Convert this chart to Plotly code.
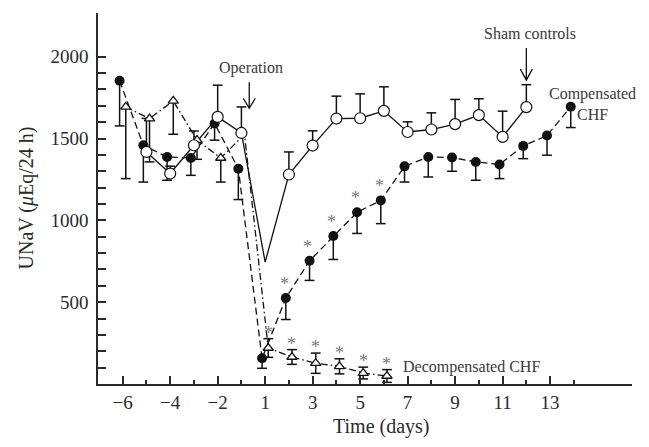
import plotly.graph_objects as go

# ---------------- data ----------------
tick_days = [-6, -4, -2, 1, 3, 5, 7, 9, 11, 13]
minor_days = [-5, -3, -1, 2, 4, 6, 8, 10, 12, 14]

sham_days = [-5, -4, -3, -2, -1, 1, 2, 3, 4, 5, 6, 7, 8, 9, 10, 11, 12]
sham_mean = [1418, 1286, 1459, 1632, 1534, 745, 1280, 1457, 1622, 1624, 1669,
             1540, 1555, 1588, 1643, 1510, 1692]
sham_err = [205, 45, 87, 194, 159, 0, 138, 90, 137, 149, 147, 62, 102, 151,
            100, 157, 137]

comp_days = [-6, -5, -4, -3, -2, -1, 1, 2, 3, 4, 5, 6, 7, 8, 9, 10, 11, 12, 13, 14]
comp_mean = [1853, 1459, 1387, 1381, 1592, 1316, 157, 525, 753, 904, 1049, 1122,
             1330, 1387, 1384, 1357, 1341, 1455, 1518, 1694]
comp_err = [276, 225, 142, 106, 102, 189, 61, 131, 120, 143, 129, 142, 96, 122,
            84, 112, 86, 78, 120, 127]
comp_sig_days = [2, 3, 4, 5, 6]

decomp_days = [-6, -5, -4, -3, -2, -1, 1, 2, 3, 4, 5, 6]
decomp_mean = [1693, 1622, 1730, 1490, 1381, 1525, 220, 165, 127, 108, 67, 49]
decomp_err_minus = [438, 265, 204, 117, 147, 0, 57, 45, 62, 46, 36, 39]
decomp_err_plus = [0, 0, 0, 0, 0, 0, 57, 45, 62, 46, 36, 39]
decomp_sig_days = [1, 2, 3, 4, 5, 6]

y_major = [500, 1000, 1500, 2000]
y_minor = [v for v in range(100, 2000, 100) if v not in y_major]


def pos(d):
    """Day 0 is skipped on the time axis."""
    return d if d < 0 else d - 1


def label(d):
    return ("\u2212" + str(-d)) if d < 0 else str(d)


SERIF = "Liberation Serif"
INK = "#111111"
AX = "#2a2a2a"
TXT = "#3a3a3a"
STAR = "#7a7a7a"
LW = 1.3

series = [
    dict(x=[pos(d) + 0.13 for d in decomp_days], y=decomp_mean,
         ep=decomp_err_plus, em=decomp_err_minus,
         dash="7px,3px,1.5px,3px",
         marker=dict(symbol="triangle-up", color="white", size=9,
                     line=dict(color=INK, width=1.3))),
    dict(x=[pos(d) - 0.13 for d in comp_days], y=comp_mean,
         ep=[0] * len(comp_err), em=comp_err,
         dash="7px,4px",
         marker=dict(symbol="circle", size=10, color=INK,
                     line=dict(color=INK, width=0))),
    dict(x=[pos(d) for d in sham_days], y=sham_mean,
         ep=sham_err, em=[0] * len(sham_err),
         dash="solid",
         marker=dict(symbol="circle", color="white", size=11,
                     line=dict(color=INK, width=1.2))),
]

fig = go.Figure()

# error bars first (beneath all markers): stems + caps
for s in series:
    sx, sy, cx, cy = [], [], [], []
    for x, y, ep, em in zip(s["x"], s["y"], s["ep"], s["em"]):
        if ep == 0 and em == 0:
            continue
        sx += [x, x, None]
        sy += [y - em, y + ep, None]
        if ep:
            cx.append(x); cy.append(y + ep)
        if em:
            cx.append(x); cy.append(y - em)
    fig.add_trace(go.Scatter(x=sx, y=sy, mode="lines",
                             line=dict(color=INK, width=1.5),
                             showlegend=False, hoverinfo="skip"))
    fig.add_trace(go.Scatter(x=cx, y=cy, mode="markers",
                             marker=dict(symbol="line-ew", size=7,
                                         line=dict(color=INK, width=1.5)),
                             showlegend=False, hoverinfo="skip"))

# connecting lines
for s in series:
    fig.add_trace(go.Scatter(
        x=s["x"], y=s["y"], mode="lines",
        line=dict(color=INK, width=LW, dash=s["dash"]),
        showlegend=False, hoverinfo="skip"))

# markers (points without a drawn SEM are shown only as line vertices)
for s in series:
    keep = [i for i, (a, b) in enumerate(zip(s["ep"], s["em"])) if a or b]
    fig.add_trace(go.Scatter(
        x=[s["x"][i] for i in keep], y=[s["y"][i] for i in keep],
        mode="markers", marker=s["marker"],
        showlegend=False, hoverinfo="skip"))

annotations = []
# significance asterisks
for d, m in zip(comp_days, comp_mean):
    if d in comp_sig_days:
        annotations.append(dict(x=pos(d) - 0.2, y=m, yshift=14, text="*",
                                showarrow=False, font=dict(family=SERIF, size=18, color=STAR)))
for d, m, e in zip(decomp_days, decomp_mean, decomp_err_plus):
    if d in decomp_sig_days:
        annotations.append(dict(x=pos(d) + 0.13, y=m + e, yshift=6, text="*",
                                showarrow=False, font=dict(family=SERIF, size=18, color=STAR)))

# labels
annotations += [
    dict(x=-0.6, y=1930, text="Operation", showarrow=False,
         font=dict(family=SERIF, size=16, color=TXT)),
    dict(x=11.17, y=2139, text="Sham controls", showarrow=False,
         font=dict(family=SERIF, size=16, color=TXT)),
    dict(x=13.8, y=1711, text="Compensated<br>CHF", showarrow=False,
         font=dict(family=SERIF, size=16, color=TXT)),
    dict(x=8.67, y=102, text="Decompensated CHF", showarrow=False,
         font=dict(family=SERIF, size=16, color=TXT)),
    dict(x=4.88, xref="x", y=0, yref="paper", yanchor="middle", yshift=-42,
         text="Time (days)", showarrow=False,
         font=dict(family=SERIF, size=20, color=AX)),
    dict(x=0, xref="paper", xshift=-72, xanchor="center", y=0.5, yref="paper",
         yanchor="middle", textangle=-90,
         text="UNaV (<i>\u03bc</i>Eq/24 h)", showarrow=False,
         font=dict(family=SERIF, size=20, color=AX)),
]

shapes = [
    dict(type="path", xref="x", yref="y", xsizemode="pixel", ysizemode="pixel",
         xanchor=-0.67, yanchor=1685, path="M0,0 L0,26 M-6,10 L0,0 L6,10",
         line=dict(color=INK, width=1.3)),
    dict(type="path", xref="x", yref="y", xsizemode="pixel", ysizemode="pixel",
         xanchor=11.0, yanchor=1857, path="M0,0 L0,32 M-6,11 L0,0 L6,11",
         line=dict(color=INK, width=1.3)),
]

fig.update_layout(
    width=649, height=447,
    margin=dict(l=98, r=17, t=13, b=63),
    paper_bgcolor="white", plot_bgcolor="white",
    font=dict(family=SERIF, size=19, color=AX),
    annotations=annotations, shapes=shapes,
    xaxis=dict(range=[-7.04, 15.45], showgrid=False, zeroline=False,
               showline=True, linecolor=AX, linewidth=1.6,
               tickmode="array", tickvals=[pos(d) for d in tick_days],
               ticktext=[label(d) for d in tick_days],
               ticks="inside", ticklen=8, tickwidth=1.5, tickcolor=AX,
               ticklabelstandoff=0,
               tickfont=dict(family=SERIF, size=19, color=AX),
               minor=dict(tickmode="array", tickvals=[pos(d) for d in minor_days],
                          ticks="inside", ticklen=4, tickwidth=1.5, tickcolor=AX)),
    yaxis=dict(range=[0, 2267], showgrid=False, zeroline=False,
               showline=True, linecolor=AX, linewidth=1.6,
               tickmode="array", tickvals=y_major,
               ticks="inside", ticklen=8, tickwidth=1.5, tickcolor=AX,
               ticklabelstandoff=4,
               tickfont=dict(family=SERIF, size=19, color=AX),
               minor=dict(tickmode="array", tickvals=y_minor,
                          ticks="inside", ticklen=8, tickwidth=1.5, tickcolor=AX)),
)

fig.write_html("out.html",
               config={"displayModeBar": False},
               post_script="document.body.style.margin='0';"
                           "document.body.style.overflow='hidden';")
